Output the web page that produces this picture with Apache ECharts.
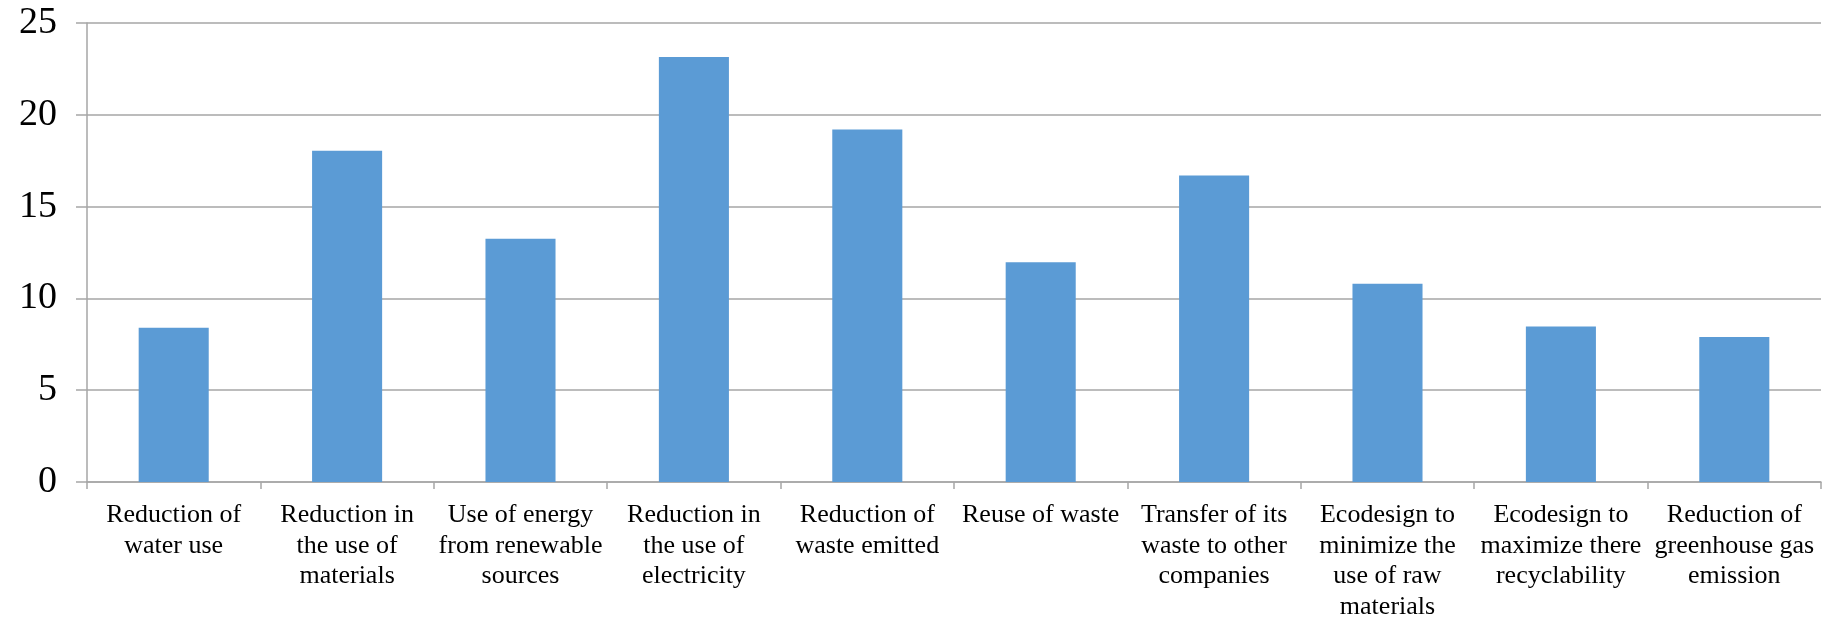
<!DOCTYPE html>
<html>
<head>
<meta charset="utf-8">
<script src="https://cdn.jsdelivr.net/npm/echarts@6/dist/echarts.min.js"></script>
<style>
html,body{margin:0;padding:0;background:#fff;}
#chart{width:1835px;height:622px;}
</style>
</head>
<body>
<div id="chart"></div>
<script>
const categories = [
  "Reduction of\nwater use",
  "Reduction in\nthe use of\nmaterials",
  "Use of energy\nfrom renewable\nsources",
  "Reduction in\nthe use of\nelectricity",
  "Reduction of\nwaste emitted",
  "Reuse of waste",
  "Transfer of its\nwaste to other\ncompanies",
  "Ecodesign to\nminimize the\nuse of raw\nmaterials",
  "Ecodesign to\nmaximize there\nrecyclability",
  "Reduction of\ngreenhouse gas\nemission"
];
const values = [8.4, 18.04, 13.25, 23.15, 19.2, 11.97, 16.7, 10.8, 8.47, 7.9];
const yTicks = [0, 5, 10, 15, 20, 25];

const chart = echarts.init(document.getElementById('chart'));
const axisGray = '#a6a6a6';
chart.setOption({
  animation: false,
  backgroundColor: '#ffffff',
  grid: { left: 87, right: 14, top: 23, bottom: 135, containLabel: false },
  xAxis: {
    type: 'category',
    data: categories,
    axisLine: { show: true, lineStyle: { color: axisGray, width: 1.5 } },
    axisTick: { show: true, length: 7, lineStyle: { color: axisGray, width: 1.5 } },
    axisLabel: {
      interval: 0,
      margin: 18,
      color: '#000',
      fontFamily: 'Liberation Serif',
      fontSize: 26,
      lineHeight: 30.5,
      align: 'center'
    }
  },
  yAxis: {
    type: 'value',
    min: yTicks[0],
    max: yTicks[yTicks.length - 1],
    interval: yTicks[1] - yTicks[0],
    axisLine: { show: true, lineStyle: { color: axisGray, width: 1.5 } },
    axisTick: { show: true, length: 11, lineStyle: { color: axisGray, width: 1.5 } },
    splitLine: { show: true, lineStyle: { color: axisGray, width: 1.5 } },
    axisLabel: {
      margin: 30,
      color: '#000',
      fontFamily: 'Liberation Serif',
      fontSize: 38
    }
  },
  series: [{
    type: 'bar',
    data: values,
    barCategoryGap: '59.6%',
    itemStyle: { color: '#5b9bd5' }
  }]
});
</script>
</body>
</html>
